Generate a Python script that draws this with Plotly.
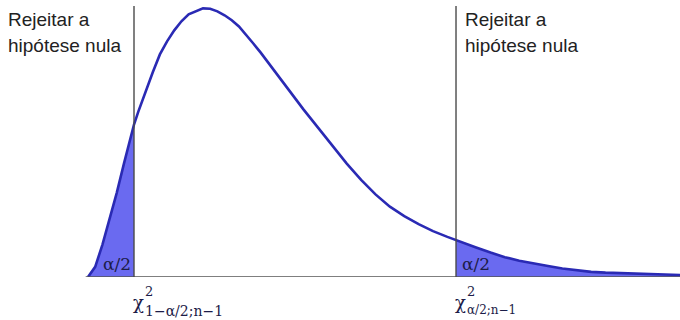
import plotly.graph_objects as go

# Chi-square density curve (x: statistic value, y: density)
curve_x = [0, 0.25, 0.5, 0.75, 1.0, 1.25, 1.5, 1.6, 1.75, 2.0, 2.25, 2.5, 2.75,
           3.0, 3.25, 3.5, 3.75, 4.0, 4.25, 4.5, 4.75, 5.0, 5.25, 5.5, 5.75,
           6.0, 6.5, 7.0, 7.5, 8.0, 8.5, 9.0, 9.5, 10.0, 10.5, 11.0, 11.5,
           12.0, 12.5, 12.8, 13.0, 13.5, 14.0, 14.5, 15.0, 15.5, 16.0, 16.5,
           17.0, 17.5, 18.0, 19.0, 20.0, 20.6]
curve_y = [0, 0.0051, 0.0162, 0.0288, 0.0424, 0.0571, 0.0712, 0.0768, 0.0833,
           0.0934, 0.1030, 0.1121, 0.1187, 0.1242, 0.1288, 0.1323, 0.1339,
           0.1353, 0.1351, 0.1338, 0.1318, 0.1293, 0.1262, 0.1221, 0.1176,
           0.1131, 0.1035, 0.0934, 0.0843, 0.0752, 0.0662, 0.0571, 0.0489,
           0.0416, 0.0354, 0.0307, 0.0266, 0.0231, 0.0202, 0.0187, 0.0177,
           0.0149, 0.0123, 0.0100, 0.0082, 0.0067, 0.0055, 0.0043, 0.0033,
           0.0026, 0.0022, 0.0016, 0.0013, 0.0010]

# Critical values bounding the two rejection regions
crit_lower = 1.6
crit_upper = 12.8

reject_text = ["Rejeitar a", "hipótese nula"]
tail_label = "α/2"
crit_subs = ["1−α/2;n−1", "α/2;n−1"]

LINE_BLUE = "#2a2ab4"
FILL_BLUE = "#6a6af0"
DARK = "#222222"
NAVY = "#1c1c48"

left_x = [x for x in curve_x if x <= crit_lower]
left_y = [y for x, y in zip(curve_x, curve_y) if x <= crit_lower]
right_x = [x for x in curve_x if x >= crit_upper]
right_y = [y for x, y in zip(curve_x, curve_y) if x >= crit_upper]

fig = go.Figure()

for tx, ty in ((left_x, left_y), (right_x, right_y)):
    fig.add_trace(go.Scatter(
        x=tx, y=ty, mode="lines", fill="tozeroy",
        fillcolor=FILL_BLUE, line=dict(width=0, color=FILL_BLUE),
        hoverinfo="skip", showlegend=False))

fig.add_trace(go.Scatter(
    x=curve_x, y=curve_y, mode="lines",
    line=dict(color=LINE_BLUE, width=2.6),
    showlegend=False))

shapes = [
    # horizontal axis
    dict(type="line", xref="x", yref="y", x0=curve_x[0] - 0.08, x1=curve_x[-1],
         y0=0, y1=0, line=dict(color="#555555", width=1.6), layer="above"),
]
for c in (crit_lower, crit_upper):
    shapes.append(dict(type="line", xref="x", yref="paper", x0=c, x1=c,
                       y0=0, y1=0.978, line=dict(color="#4a4a4a", width=1.4),
                       layer="above"))

text_font = dict(family="Liberation Sans, Arial, sans-serif", size=19, color=DARK)
serif = "DejaVu Serif, Liberation Serif, serif"
serif_font = dict(family=serif, size=17, color=NAVY)

ann = []
# "Rejeitar a hipótese nula" in the top-left corner and beside the upper line
for i, line in enumerate(reject_text):
    ann.append(dict(x=0, y=1, xref="paper", yref="paper", text=line,
                    xanchor="left", yanchor="top", xshift=6,
                    yshift=-7 - 26 * i, showarrow=False, font=text_font))
    ann.append(dict(x=crit_upper, y=1, xref="x", yref="paper", text=line,
                    xanchor="left", yanchor="top", xshift=7,
                    yshift=-7 - 26 * i, showarrow=False, font=text_font))

# tail area labels
ann.append(dict(x=crit_lower, y=0, xref="x", yref="y", text=tail_label,
                xanchor="right", yanchor="bottom", xshift=-1, yshift=1,
                showarrow=False, font=serif_font))
ann.append(dict(x=crit_upper, y=0, xref="x", yref="y", text=tail_label,
                xanchor="left", yanchor="bottom", xshift=4, yshift=1,
                showarrow=False, font=serif_font))

# critical value labels: χ, its exponent 2 and the subscript
for c, sub, sub_size in zip((crit_lower, crit_upper), crit_subs, (14, 12)):
    ann.append(dict(x=c, y=0, xref="x", yref="y", text="χ",
                    xanchor="left", yanchor="top", xshift=-3, yshift=-13,
                    showarrow=False, font=dict(family=serif, size=18, color=NAVY)))
    ann.append(dict(x=c, y=0, xref="x", yref="y", text=sub,
                    xanchor="left", yanchor="top", xshift=9, yshift=-24,
                    showarrow=False, font=dict(family=serif, size=sub_size, color=NAVY)))
    ann.append(dict(x=c, y=0, xref="x", yref="y", text="2",
                    xanchor="left", yanchor="bottom", xshift=9, yshift=-24,
                    showarrow=False, font=dict(family=serif, size=13, color=NAVY)))

fig.update_layout(
    width=680, height=320,
    margin=dict(l=0, r=0, t=0, b=43),
    paper_bgcolor="white", plot_bgcolor="white",
    shapes=shapes, annotations=ann,
    xaxis=dict(range=[-3.061, 20.591], visible=False, fixedrange=True),
    yaxis=dict(range=[0, 0.1395], visible=False, fixedrange=True),
    showlegend=False,
)

fig.write_html("out.html")
